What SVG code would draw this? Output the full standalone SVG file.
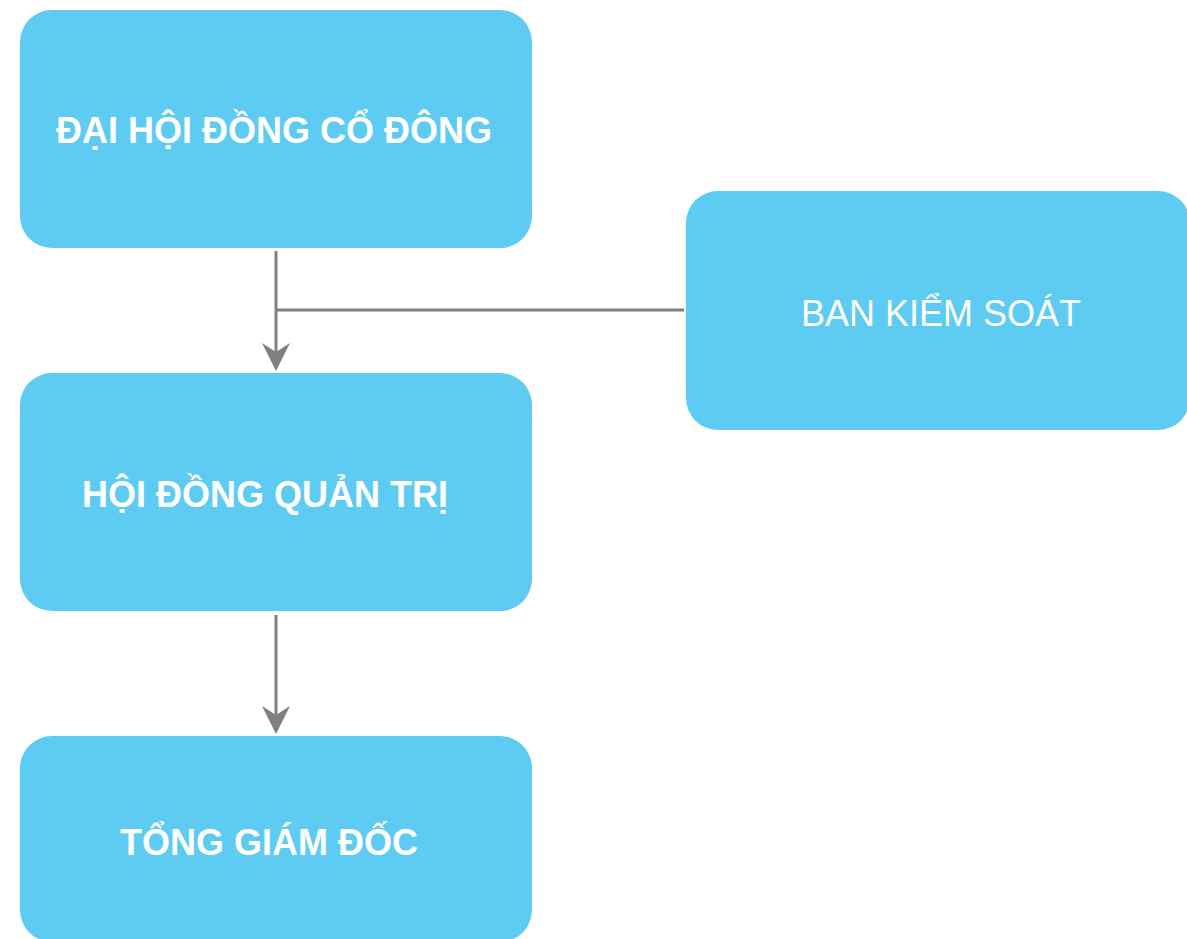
<svg xmlns="http://www.w3.org/2000/svg" width="1187" height="939" viewBox="0 0 1187 939">
<style>
.box{fill:#5ecbf2}
.t{font-family:"Liberation Sans",Arial,sans-serif;font-size:36px;fill:#fff;text-anchor:middle}
.b{font-weight:bold}
.c{stroke:#808080;stroke-width:3;fill:none}
</style>
<g id="connectors">
<path class="c" d="M276,251 L276,368"/>
<path d="M262,343 L276,352 L290,343 L276,371 Z" fill="#808080"/>
<path class="c" d="M276,310 L684,310"/>
<path class="c" d="M276,615 L276,731"/>
<path d="M262,706 L276,715 L290,706 L276,734 Z" fill="#808080"/>
</g>
<g id="n1"><rect class="box" x="20" y="10" width="512" height="238" rx="32"/><text class="t b" x="274" y="143">ĐẠI HỘI ĐỒNG CỔ ĐÔNG</text></g>
<g id="n2"><rect class="box" x="20" y="373" width="512" height="238" rx="32"/><text class="t b" x="265" y="507">HỘI ĐỒNG QUẢN TRỊ</text></g>
<g id="n3"><rect class="box" x="20" y="736" width="512" height="206" rx="32"/><text class="t b" x="269" y="855">TỔNG GIÁM ĐỐC</text></g>
<g id="n4"><rect class="box" x="686" y="191" width="504" height="239" rx="32"/><text class="t" x="941" y="326">BAN KIỂM SOÁT</text></g>
</svg>
